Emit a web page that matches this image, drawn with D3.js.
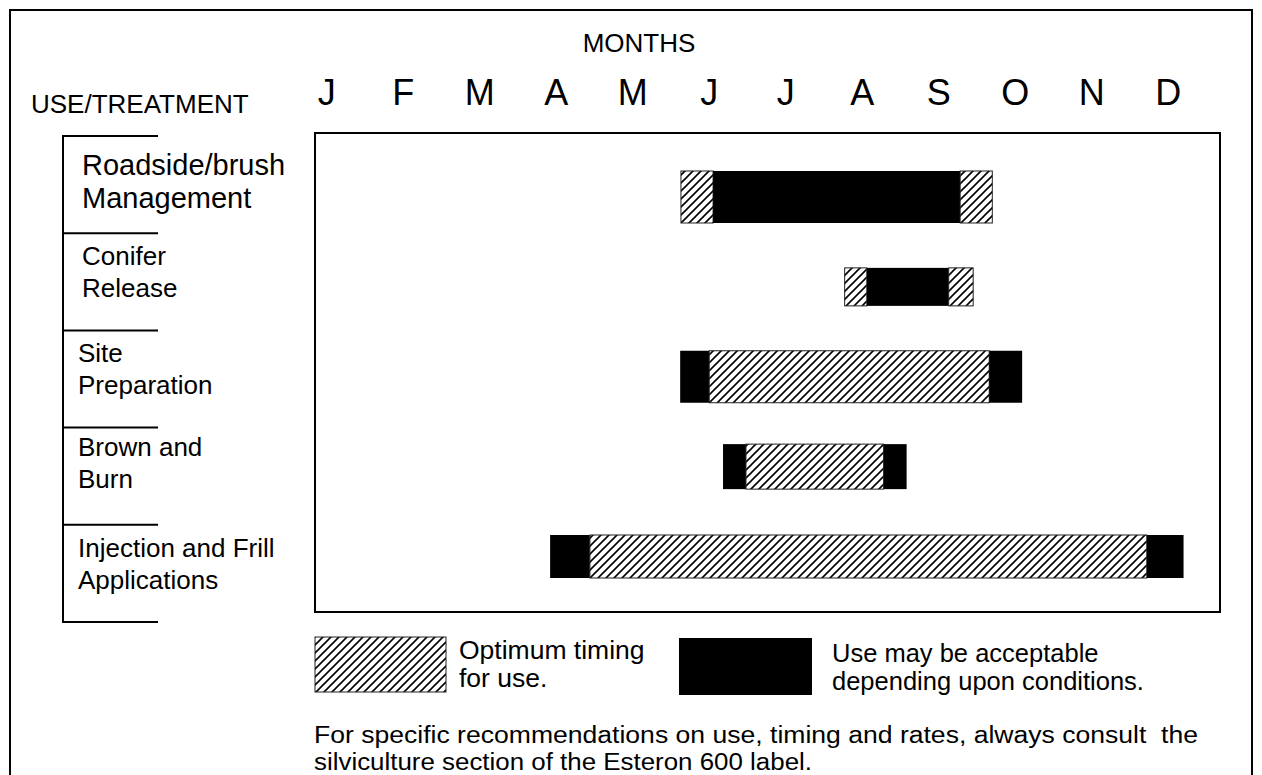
<!DOCTYPE html>
<html>
<head>
<meta charset="utf-8">
<script src="https://cdn.jsdelivr.net/npm/d3@7"></script>
<style>
  body { margin: 0; background: #fff; }
  svg { display: block; font-family: "Liberation Sans", Arial, sans-serif; }
</style>
</head>
<body>
<script>
// months and treatments
const months = ["J", "F", "M", "A", "M", "J", "J", "A", "S", "O", "N", "D"];
const treatments = ["Roadside/brush Management", "Conifer Release", "Site Preparation", "Brown and Burn", "Injection and Frill Applications"];
const labelLines = [
  ["Roadside/brush", "Management"],
  ["Conifer", "Release"],
  ["Site", "Preparation"],
  ["Brown and", "Burn"],
  ["Injection and Frill", "Applications"]
];
// segment edges, in months counted from 1 January
const edges = [
  [5.13, 5.55, 8.78, 9.20],
  [7.27, 7.56, 8.63, 8.95],
  [5.12, 5.50, 9.16, 9.59],
  [5.68, 5.98, 7.78, 8.08],
  [3.42, 3.94, 11.22, 11.70]
];
// opt = optimum timing, acc = acceptable depending upon conditions
const kinds = [
  ["opt", "acc", "opt"],
  ["opt", "acc", "opt"],
  ["acc", "opt", "acc"],
  ["acc", "opt", "acc"],
  ["acc", "opt", "acc"]
];
const legendText = {
  opt: ["Optimum timing", "for use."],
  acc: ["Use may be acceptable", "depending upon conditions."]
};
const footnote = [
  "For specific recommendations on use, timing and rates, always consult  the",
  "silviculture section of the Esteron 600 label."
];

const barHeights = [52, 38, 52, 45, 43];

const svg = d3.select("body").append("svg")
  .attr("width", 1262)
  .attr("height", 775);

const defs = svg.append("defs");
defs.append("pattern")
  .attr("id", "hatch")
  .attr("patternUnits", "userSpaceOnUse")
  .attr("width", 8)
  .attr("height", 8)
  .call(p => {
    p.append("rect").attr("width", 8).attr("height", 8).attr("fill", "#fff");
    p.append("path")
      .attr("d", "M-2,2 l4,-4 M0,8 l8,-8 M6,10 l4,-4")
      .attr("stroke", "#000")
      .attr("stroke-width", 1.6);
  });

const fillFor = k => k === "opt" ? "url(#hatch)" : "#000";

// outer frame
svg.append("rect")
  .attr("x", 10).attr("y", 10)
  .attr("width", 1242).attr("height", 800)
  .attr("fill", "none").attr("stroke", "#000").attr("stroke-width", 2);

// scales
const x = d3.scaleLinear().domain([0, 12]).range([288.5, 1206.5]);
const monthBand = d3.scaleBand().domain(d3.range(12)).range([x(0), x(12)]);
const yBar = d3.scalePoint().domain(treatments).range([197, 556.5]);
const yRow = d3.scaleBand().domain(treatments).range([136, 622]);

// titles
svg.append("text")
  .attr("x", 639).attr("y", 52)
  .attr("text-anchor", "middle")
  .style("font-size", "26px")
  .text("MONTHS");

svg.append("text")
  .attr("x", 31).attr("y", 113)
  .style("font-size", "26px")
  .text("USE/TREATMENT");

// month axis
const axis = svg.append("g")
  .attr("transform", "translate(0,105)")
  .call(d3.axisTop(monthBand).tickSize(0).tickPadding(0).tickFormat(i => months[i]));
axis.select(".domain").remove();
axis.selectAll("text")
  .attr("fill", "#000")
  .style("font-size", "36px")
  .style("font-family", "'Liberation Sans', Arial, sans-serif");

// plot box
svg.append("rect")
  .attr("x", 315).attr("y", 133)
  .attr("width", 905).attr("height", 479)
  .attr("fill", "none").attr("stroke", "#000").attr("stroke-width", 2);

// left bracket
const bracket = svg.append("g").attr("stroke", "#000").attr("stroke-width", 2);
bracket.append("line")
  .attr("x1", 63).attr("x2", 63)
  .attr("y1", yRow(treatments[0])).attr("y2", yRow(treatments[4]) + yRow.bandwidth());
bracket.selectAll(".tick-line")
  .data(treatments.map(t => yRow(t)).concat([yRow(treatments[4]) + yRow.bandwidth()]))
  .enter().append("line")
  .attr("x1", 62).attr("x2", 158)
  .attr("y1", d => d).attr("y2", d => d);

// row labels
svg.selectAll(".row-label")
  .data(treatments)
  .enter().append("text")
  .attr("class", "row-label")
  .attr("x", (d, i) => i < 2 ? 82 : 78)
  .attr("y", (d, i) => yRow(d) + (i === 0 ? 39 : (i === 3 ? 28 : 32)))
  .style("font-size", (d, i) => i === 0 ? "29px" : "26px")
  .each(function (d, i) {
    const t = d3.select(this);
    labelLines[i].forEach((line, j) => {
      t.append("tspan")
        .attr("x", t.attr("x"))
        .attr("dy", j === 0 ? 0 : (i === 0 ? 33 : 32))
        .text(line);
    });
  });

// bars
const segs = [];
treatments.forEach((t, i) => {
  kinds[i].forEach((k, j) => {
    segs.push({ row: t, i: i, kind: k, x0: edges[i][j], x1: edges[i][j + 1] });
  });
});

svg.append("g").selectAll("rect")
  .data(segs)
  .enter().append("rect")
  .attr("x", d => x(d.x0))
  .attr("width", d => x(d.x1) - x(d.x0))
  .attr("y", d => yBar(d.row) - barHeights[d.i] / 2)
  .attr("height", d => barHeights[d.i])
  .attr("fill", d => fillFor(d.kind))
  .attr("stroke", d => d.kind === "opt" ? "#222" : "none")
  .attr("stroke-width", 1);

// legend
const legend = [
  { kind: "opt", x: 315, y: 637, w: 131, h: 55, tx: 459, ty: 659, fs: 26.5, lh: 28 },
  { kind: "acc", x: 679, y: 638, w: 133, h: 57, tx: 832, ty: 662, fs: 25.5, lh: 28 }
];
legend.forEach(l => {
  svg.append("rect")
    .attr("x", l.x).attr("y", l.y)
    .attr("width", l.w).attr("height", l.h)
    .attr("fill", fillFor(l.kind))
    .attr("stroke", l.kind === "opt" ? "#222" : "none");
  const t = svg.append("text").attr("x", l.tx).attr("y", l.ty).style("font-size", l.fs + "px");
  legendText[l.kind].forEach((line, j) => {
    t.append("tspan").attr("x", l.tx).attr("dy", j === 0 ? 0 : l.lh).text(line);
  });
});

// footnote, two separate lines stretched to the reference widths
const fnWidths = [884, 498];
footnote.forEach((line, j) => {
  svg.append("text")
    .attr("x", 314).attr("y", 743 + j * 27)
    .attr("xml:space", "preserve")
    .attr("textLength", fnWidths[j])
    .attr("lengthAdjust", "spacingAndGlyphs")
    .style("font-size", "23.5px")
    .text(line);
});
</script>
</body>
</html>
